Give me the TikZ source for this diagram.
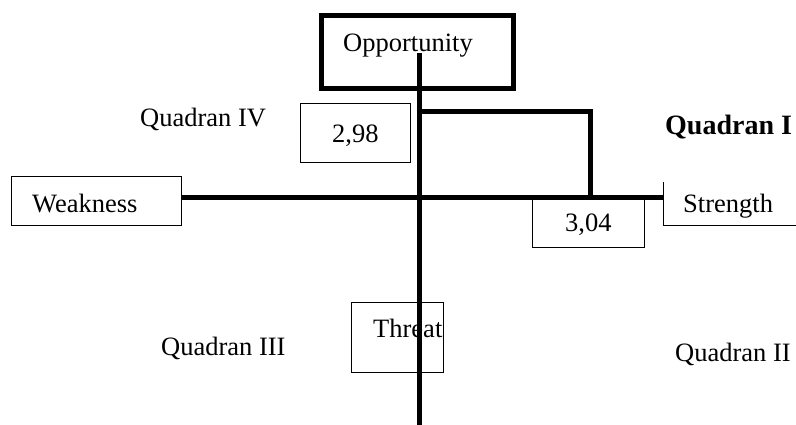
\documentclass[tikz,border=0pt]{standalone}
\usepackage{fontspec}
\setmainfont{Liberation Serif}
\begin{document}
\begin{tikzpicture}[x=1pt,y=-1pt,
  thinbox/.style={draw, line width=1pt, rectangle, inner sep=0pt, outer sep=0pt},
  thickbox/.style={draw, line width=5pt, rectangle, inner sep=0pt, outer sep=0pt},
  lbl/.style={anchor=base west, inner sep=0pt, font=\fontsize{26.5}{31}\selectfont},
  axisline/.style={line width=5pt}]
\useasboundingbox (0,0) rectangle (796,425);
% boxes
\node[thickbox, minimum width=192pt, minimum height=73.5pt] (opp) at (417,52) {};
\node[thinbox, minimum width=170pt, minimum height=49pt] (weak) at (96,201.5) {};
\node[thinbox, minimum width=110pt, minimum height=59pt] (b298) at (355,133.5) {};
\node[thinbox, minimum width=112pt, minimum height=51pt] (b304) at (588,222.5) {};
\node[thinbox, minimum width=92pt, minimum height=70pt] (thr) at (397,337) {};
% strength bracket
\coordinate (sA) at (663,182);
\coordinate (sB) at (663,226);
\coordinate (sC) at (796,226);
\draw[line width=1pt] (sA) -- (sB) -- (sC);
% texts
\node[lbl] (topp) at (343,52) {Opportunity};
\node[lbl] (q4) at (140,127) {Quadran IV};
\node[lbl] (t298) at (332,143) {2,98};
\node[lbl, font=\fontsize{28}{33}\selectfont\bfseries] (q1) at (665,135) {Quadran I};
\node[lbl] (tweak) at (32,213) {Weakness};
\node[lbl] (tstr) at (683,212) {Strength};
\node[lbl] (t304) at (565,232) {3,04};
\node[lbl] (tthr) at (373,337) {Threat};
\node[lbl] (q3) at (161,355) {Quadran III};
\node[lbl] (q2) at (675,361) {Quadran II};
% axes
\coordinate (vtop) at (419,53);
\coordinate (vbot) at (419,425);
\coordinate (hl) at (181,198);
\coordinate (hr) at (663,198);
\draw[axisline] (vtop) -- (vbot);
\draw[axisline] (hl) -- (hr);
% value bracket
\coordinate (bA) at (419,112);
\coordinate (bB) at (590,112);
\coordinate (bC) at (590,198);
\draw[axisline] (bA) -- (bB) -- (bC);
\end{tikzpicture}
\end{document}
